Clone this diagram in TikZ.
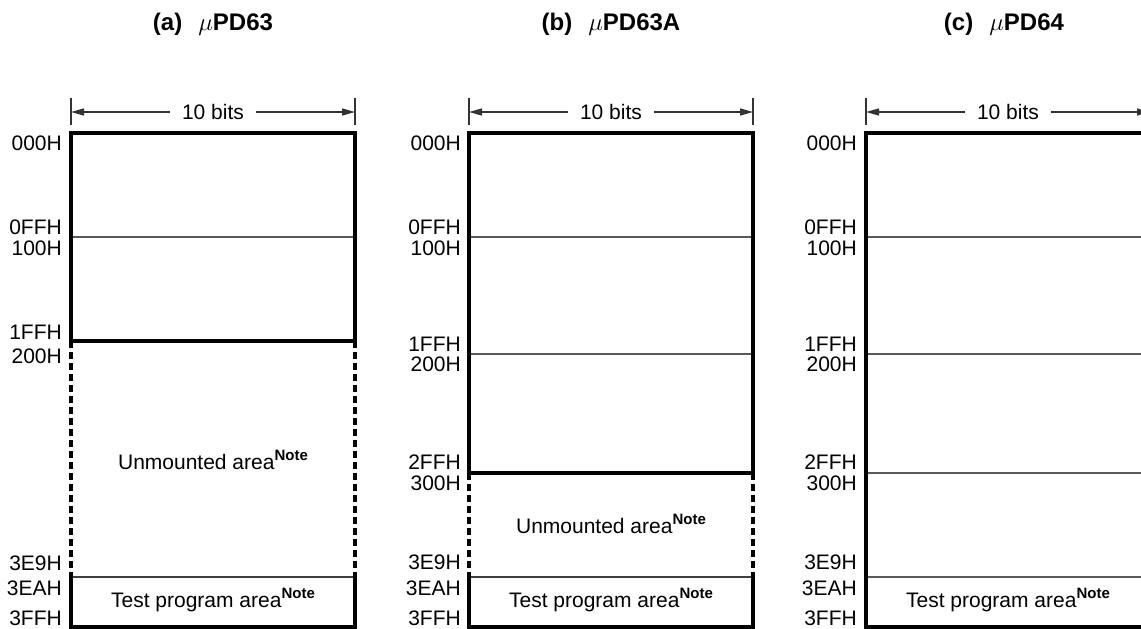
\documentclass[tikz,border=0pt]{standalone}
\usepackage{fontspec}
\setmainfont{Liberation Sans}
\usetikzlibrary{arrows.meta}
\tikzset{
  thk/.style={line width=3.2pt, line cap=rect},
  thn/.style={line width=1.3pt, draw=black!65},
  mid/.style={line width=1.4pt, draw=black!75},
  dsh/.style={line width=3.2pt, dash pattern=on 6.5pt off 4.5pt},
  addr/.style={anchor=east, inner sep=0pt, font=\fontsize{21}{21}\selectfont},
  area/.style={inner sep=0pt, font=\fontsize{21}{21}\selectfont},
  ttl/.style={inner sep=0pt, font=\fontsize{24}{24}\selectfont\bfseries},
  dimtxt/.style={inner xsep=12pt, inner ysep=0pt, font=\fontsize{21}{21}\selectfont},
  dimarr/.style={line width=1.3pt, draw=black!80, -{Triangle[length=13pt,width=7pt]}},
  tick/.style={line width=1.3pt, draw=black!80}
}
\newcommand{\notesup}{\raisebox{0.45em}{\fontsize{15}{15}\selectfont\bfseries Note}}
\newcommand{\ttlgap}{\hspace{16pt}}
\begin{document}
\begin{tikzpicture}[x=1pt,y=-1pt]
\useasboundingbox (0,0) rectangle (1141,629);
\clip (0,0) rectangle (1141,629);
% ---------- titles
\node[ttl] (ta) at (213,24) {(a)\ttlgap$\mu$PD63};
\node[ttl] (tb) at (611,24) {(b)\ttlgap$\mu$PD63A};
\node[ttl] (tc) at (1004,24) {(c)\ttlgap$\mu$PD64};
% ---------- panel (a)
\coordinate (aL) at (71,112); \coordinate (aR) at (355,112);
\draw[tick] (71,98) -- (71,125); \draw[tick] (355,98) -- (355,125);
\node[dimtxt] (da) at (213,112) {10 bits};
\draw[dimarr] (da) -- (aL); \draw[dimarr] (da) -- (aR);
\draw[thn] (71,237) -- (355,237);
\draw[thk] (71,133) rectangle (355,341);
\draw[dsh] (71,341) -- (71,577); \draw[dsh] (355,341) -- (355,577);
\draw[mid] (71,577) -- (355,577);
\draw[thk] (71,577) -- (71,627) -- (355,627) -- (355,577);
\node[addr] (a1) at (62,143) {000H};
\node[addr] (a2) at (62,227) {0FFH};
\node[addr] (a3) at (62,248) {100H};
\node[addr] (a4) at (62,332) {1FFH};
\node[addr] (a5) at (62,356) {200H};
\node[addr] (a6) at (62,563) {3E9H};
\node[addr] (a7) at (62,588) {3EAH};
\node[addr] (a8) at (62,618) {3FFH};
\node[area] (ua) at (213,460) {Unmounted area\notesup};
\node[area] (pa) at (213,600) {Test program area\notesup};
% ---------- panel (b)
\coordinate (bL) at (469,112); \coordinate (bR) at (753,112);
\draw[tick] (469,98) -- (469,125); \draw[tick] (753,98) -- (753,125);
\node[dimtxt] (db) at (611,112) {10 bits};
\draw[dimarr] (db) -- (bL); \draw[dimarr] (db) -- (bR);
\draw[thn] (469,237) -- (753,237);
\draw[thn] (469,354) -- (753,354);
\draw[thk] (469,133) rectangle (753,473);
\draw[dsh] (469,473) -- (469,577); \draw[dsh] (753,473) -- (753,577);
\draw[mid] (469,577) -- (753,577);
\draw[thk] (469,577) -- (469,627) -- (753,627) -- (753,577);
\node[addr] (b1) at (461,143) {000H};
\node[addr] (b2) at (461,227) {0FFH};
\node[addr] (b3) at (461,248) {100H};
\node[addr] (b4) at (461,344) {1FFH};
\node[addr] (b5) at (461,364) {200H};
\node[addr] (b6) at (461,462) {2FFH};
\node[addr] (b7) at (461,483) {300H};
\node[addr] (b8) at (461,562) {3E9H};
\node[addr] (b9) at (461,588) {3EAH};
\node[addr] (b10) at (461,618) {3FFH};
\node[area] (ub) at (611,524) {Unmounted area\notesup};
\node[area] (pb) at (611,600) {Test program area\notesup};
% ---------- panel (c)
\coordinate (cL) at (866,112); \coordinate (cR) at (1150,112);
\draw[tick] (866,98) -- (866,125); \draw[tick] (1150,98) -- (1150,125);
\node[dimtxt] (dc) at (1008,112) {10 bits};
\draw[dimarr] (dc) -- (cL); \draw[dimarr] (dc) -- (cR);
\draw[thn] (866,237) -- (1150,237);
\draw[thn] (866,354) -- (1150,354);
\draw[thn] (866,473) -- (1150,473);
\draw[thn] (866,577) -- (1150,577);
\draw[thk] (866,133) rectangle (1150,627);
\node[addr] (c1) at (857,143) {000H};
\node[addr] (c2) at (857,227) {0FFH};
\node[addr] (c3) at (857,248) {100H};
\node[addr] (c4) at (857,344) {1FFH};
\node[addr] (c5) at (857,364) {200H};
\node[addr] (c6) at (857,462) {2FFH};
\node[addr] (c7) at (857,483) {300H};
\node[addr] (c8) at (857,562) {3E9H};
\node[addr] (c9) at (857,588) {3EAH};
\node[addr] (c10) at (857,618) {3FFH};
\node[area] (pc) at (1008,600) {Test program area\notesup};
\end{tikzpicture}
\end{document}
